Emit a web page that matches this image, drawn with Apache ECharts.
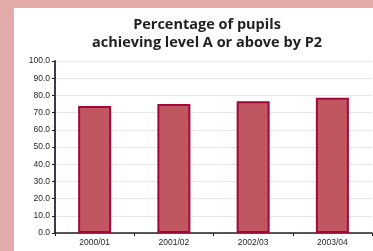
<!DOCTYPE html>
<html>
<head>
<meta charset="utf-8">
<script src="https://cdn.jsdelivr.net/npm/echarts@6/dist/echarts.min.js"></script>
<style>
  html, body { margin: 0; padding: 0; background: #e2aba9; width: 373px; height: 251px; overflow: hidden; }
  #chart1 { position: absolute; left: 14px; top: 8px; width: 359px; height: 243px; background: #ffffff; }
</style>
</head>
<body>
<div id="chart1"></div>
<script>
var years = ['2000/01', '2001/02', '2002/03', '2003/04'];
var pupilsPct = [73.8, 75.0, 76.6, 78.7];
var yTicks = [0, 10, 20, 30, 40, 50, 60, 70, 80, 90, 100];

var myChart = echarts.init(document.getElementById('chart1'));

myChart.setOption({
    backgroundColor: '#ffffff',
    animation: false,
    title: {
        text: 'Percentage of pupils\nachieving level A or above by P2',
        left: 188,
        top: 3,
        textAlign: 'center',
        textStyle: {
            fontFamily: 'Open Sans',
            fontSize: 14.5,
            fontWeight: 'bold',
            color: '#231f20',
            lineHeight: 18
        }
    },
    grid: {
        left: 41,
        right: 1,
        top: 53,
        bottom: 18
    },
    xAxis: {
        type: 'category',
        data: years,
        axisLine: { lineStyle: { color: '#231f20', width: 1.5 } },
        axisTick: { show: true, length: 3, inside: false, lineStyle: { color: '#231f20' } },
        axisLabel: {
            margin: 5,
            fontFamily: 'Liberation Sans Narrow, Liberation Sans',
            fontSize: 8.5,
            color: '#231f20'
        }
    },
    yAxis: {
        type: 'value',
        min: yTicks[0],
        max: yTicks[yTicks.length - 1],
        interval: 10,
        axisLine: { show: true, lineStyle: { color: '#3b3b45', width: 2 } },
        axisTick: { show: true, length: 3, lineStyle: { color: '#231f20' } },
        splitLine: { lineStyle: { color: '#e6e6e6', width: 1 } },
        axisLabel: {
            margin: 5,
            fontFamily: 'Liberation Sans Narrow, Liberation Sans',
            fontSize: 8.5,
            color: '#231f20',
            formatter: function (v) { return v.toFixed(1); }
        }
    },
    series: [
        {
            name: 'P2',
            type: 'bar',
            data: pupilsPct,
            barWidth: 33,
            itemStyle: {
                color: '#c0565f',
                borderColor: '#a3073c',
                borderWidth: 2
            }
        }
    ]
});
</script>
</body>
</html>
